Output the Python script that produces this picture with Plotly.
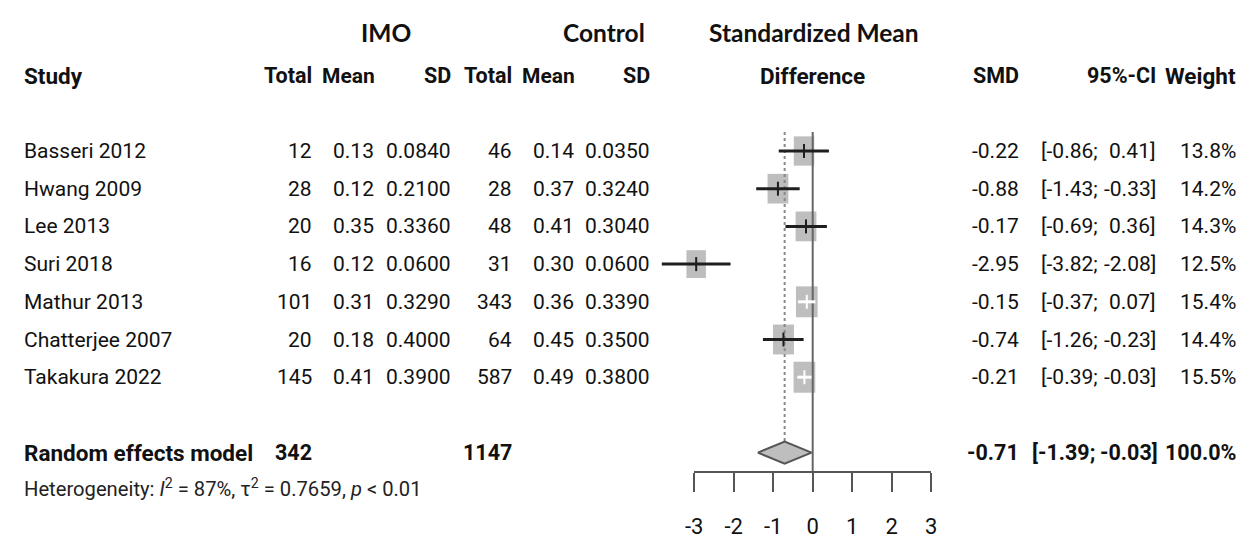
import plotly.graph_objects as go

# ---- data -------------------------------------------------------------
studies = ["Basseri 2012", "Hwang 2009", "Lee 2013", "Suri 2018",
           "Mathur 2013", "Chatterjee 2007", "Takakura 2022"]
imo_total = [12, 28, 20, 16, 101, 20, 145]
imo_mean = [0.13, 0.12, 0.35, 0.12, 0.31, 0.18, 0.41]
imo_sd = [0.0840, 0.2100, 0.3360, 0.0600, 0.3290, 0.4000, 0.3900]
ctl_total = [46, 28, 48, 31, 343, 64, 587]
ctl_mean = [0.14, 0.37, 0.41, 0.30, 0.36, 0.45, 0.49]
ctl_sd = [0.0350, 0.3240, 0.3040, 0.0600, 0.3390, 0.3500, 0.3800]
smd = [-0.22, -0.88, -0.17, -2.95, -0.15, -0.74, -0.21]
ci_low = [-0.86, -1.43, -0.69, -3.82, -0.37, -1.26, -0.39]
ci_high = [0.41, -0.33, 0.36, -2.08, 0.07, -0.23, -0.03]
weight = [13.8, 14.2, 14.3, 12.5, 15.4, 14.4, 15.5]

re_label = "Random effects model"
re_imo_total = 342
re_ctl_total = 1147
re_smd, re_low, re_high, re_weight = -0.71, -1.39, -0.03, 100.0
i2_pct, tau2, p_text = 87, 0.7659, "< 0.01"
axis_ticks = [-3, -2, -1, 0, 1, 2, 3]

# ---- page geometry (pixels) --------------------------------------------
W, H = 1245, 543
X_ZERO = 812.7      # pixel column of SMD = 0
PX_UNIT = 39.5      # pixels per SMD unit
ROW1 = 151.0        # pixel row of the first study
ROW_H = 37.7        # pixels between rows
AXIS_Y = 471.0      # pixel row of the forest axis line

NARROW = "Roboto, Liberation Sans, sans-serif"
TITLEF = "Lato, Open Sans, sans-serif"
FS = 21
FS_BOLD = 21.5


def px_to_paper_x(px):
    return px / W


def px_to_row(py):
    return 1 + (py - ROW1) / ROW_H


fig = go.Figure()

rows = list(range(1, len(studies) + 1))
re_row = len(studies) + 2

# ---- study squares (side ~ sqrt(weight)) -------------------------------
wmax = max(weight)
BOX_W, BOX_H = 21.7, 31.0
for r, m, w in zip(rows, smd, weight):
    s = (w / wmax) ** 0.5
    fig.add_shape(type="rect", xref="x", yref="y",
                  xsizemode="pixel", ysizemode="pixel",
                  xanchor=m, yanchor=r,
                  x0=-BOX_W * s / 2, x1=BOX_W * s / 2,
                  y0=-BOX_H * s / 2, y1=BOX_H * s / 2,
                  fillcolor="#bebebe", line_width=0, layer="below")

# ---- reference lines ---------------------------------------------------
top_row = px_to_row(132)
fig.add_shape(type="line", xref="x", yref="y", x0=0, x1=0,
              y0=top_row, y1=px_to_row(AXIS_Y),
              line=dict(color="#666666", width=2), layer="below")
DIAM_H = 11.0 / ROW_H
fig.add_shape(type="line", xref="x", yref="y", x0=re_smd, x1=re_smd,
              y0=top_row, y1=re_row - DIAM_H,
              line=dict(color="#8a8a8a", width=2, dash="dot"), layer="below")

# ---- confidence intervals ----------------------------------------------
for r, m, lo, hi, w in zip(rows, smd, ci_low, ci_high, weight):
    half = BOX_W * (w / wmax) ** 0.5 / 2 / PX_UNIT
    inside = (m - lo) < half and (hi - m) < half
    col = "white" if inside else "#1e1e1e"
    fig.add_trace(go.Scatter(x=[lo, hi], y=[r, r], mode="lines",
                             line=dict(color=col, width=3),
                             hoverinfo="skip", showlegend=False))
    fig.add_trace(go.Scatter(x=[m], y=[r], mode="markers",
                             marker=dict(symbol="line-ns", size=10,
                                         line=dict(color=col, width=2)),
                             hoverinfo="skip", showlegend=False))

# ---- pooled diamond ----------------------------------------------------
fig.add_trace(go.Scatter(
    x=[re_low, re_smd, re_high, re_smd, re_low],
    y=[re_row, re_row - DIAM_H, re_row, re_row + DIAM_H, re_row],
    mode="lines", fill="toself", fillcolor="#bebebe",
    line=dict(color="#555555", width=2),
    hoverinfo="skip", showlegend=False))

# ---- text columns ------------------------------------------------------
ann = []


def txt(s, xpx, row, anchor="right", bold=False, size=None, family=NARROW,
        color="#111111", yshift=0):
    if size is None:
        size = FS_BOLD if bold else FS
    if bold:
        s = "<b>" + s + "</b>"
    ann.append(dict(text=s, x=px_to_paper_x(xpx), y=row, xref="paper",
                    yref="y", xanchor=anchor, yanchor="middle",
                    showarrow=False, yshift=yshift, borderpad=0,
                    font=dict(family=family, size=size, color=color)))


COL = dict(it=313, im=375, isd=452, ct=513, cm=575, csd=651,
           smd=1020, cil=1099, cih=1157, wt=1237)

# group headers
txt("IMO", 386, -2, anchor="center", bold=True, family=TITLEF, size=24.5, yshift=5)
txt("Control", 604, -2, anchor="center", bold=True, family=TITLEF, size=24.5, yshift=5)
txt("Standardized Mean", 814, -2, anchor="center", bold=True, family=TITLEF,
    size=24.5, yshift=5)

# column headers
txt("Study", 23, -1, anchor="left", bold=True, size=22.5)
txt("Total", COL["it"], -1, bold=True)
txt("Mean", COL["im"] + 1, -1, bold=True, size=21)
txt("SD", COL["isd"], -1, bold=True)
txt("Total", COL["ct"], -1, bold=True)
txt("Mean", COL["cm"] + 1, -1, bold=True, size=21)
txt("SD", COL["csd"], -1, bold=True)
txt("Difference", X_ZERO, -1, anchor="center", bold=True, size=22.5)
txt("SMD", COL["smd"], -1, bold=True)
txt("95%-CI", COL["cih"], -1, bold=True)
txt("Weight", COL["wt"], -1, bold=True, size=22.5)

for i, r in enumerate(rows):
    txt(studies[i], 23, r, anchor="left")
    txt(f"{imo_total[i]}", COL["it"], r)
    txt(f"{imo_mean[i]:.2f}", COL["im"], r)
    txt(f"{imo_sd[i]:.4f}", COL["isd"], r)
    txt(f"{ctl_total[i]}", COL["ct"], r)
    txt(f"{ctl_mean[i]:.2f}", COL["cm"], r)
    txt(f"{ctl_sd[i]:.4f}", COL["csd"], r)
    txt(f"{smd[i]:.2f}", COL["smd"], r)
    txt(f"[{ci_low[i]:.2f};", COL["cil"], r)
    txt(f"{ci_high[i]:.2f}]", COL["cih"], r)
    txt(f"{weight[i]:.1f}%", COL["wt"], r)

# pooled row
txt(re_label, 23, re_row, anchor="left", bold=True, size=22.5)
txt(f"{re_imo_total}", COL["it"], re_row, bold=True)
txt(f"{re_ctl_total}", COL["ct"], re_row, bold=True)
txt(f"{re_smd:.2f}", COL["smd"], re_row, bold=True)
txt(f"[{re_low:.2f};", COL["cil"] - 3, re_row, bold=True)
txt(f"{re_high:.2f}]", COL["cih"] + 2, re_row, bold=True)
txt(f"{re_weight:.1f}%", COL["wt"], re_row, bold=True)

# heterogeneity
het = (f"Heterogeneity: <i>I</i><sup>2</sup> = {i2_pct}%, "
       f"\u03c4<sup>2</sup> = {tau2:.4f}, <i>p</i> {p_text.replace('<', '&lt;')}")
txt(het, 23, re_row + 1, anchor="left", size=20.2, color="#222222", yshift=2)

# ---- axes --------------------------------------------------------------
fig.update_layout(
    width=W, height=H,
    margin=dict(l=0, r=0, t=0, b=0, pad=0, autoexpand=False),
    paper_bgcolor="white", plot_bgcolor="rgba(0,0,0,0)",
    showlegend=False,
    annotations=ann,
    xaxis=dict(range=[-X_ZERO / PX_UNIT, (W - X_ZERO) / PX_UNIT],
               domain=[0, 1], visible=False, fixedrange=True),
    yaxis=dict(range=[px_to_row(H), px_to_row(0)], domain=[0, 1],
               visible=False, fixedrange=True),
    xaxis2=dict(range=[axis_ticks[0], axis_ticks[-1]],
                domain=[px_to_paper_x(X_ZERO + axis_ticks[0] * PX_UNIT),
                        px_to_paper_x(X_ZERO + axis_ticks[-1] * PX_UNIT)],
                anchor="y2", showline=True, linecolor="#555555", linewidth=2,
                ticks="outside", ticklen=19, tickwidth=2, tickcolor="#555555",
                tickvals=axis_ticks, ticktext=[str(t) for t in axis_ticks],
                ticklabelstandoff=16, automargin=False,
                tickfont=dict(family=NARROW, size=22, color="#111111"),
                showgrid=False, zeroline=False, fixedrange=True),
    yaxis2=dict(domain=[(H - AXIS_Y) / H, 1], visible=False,
                range=[0, 1], fixedrange=True),
)
# invisible trace so the bottom axis pair is rendered
fig.add_trace(go.Scatter(x=[axis_ticks[0]], y=[0.5], xaxis="x2", yaxis="y2",
                         mode="markers", marker=dict(opacity=0),
                         hoverinfo="skip", showlegend=False))

fig.write_html("out.html")
